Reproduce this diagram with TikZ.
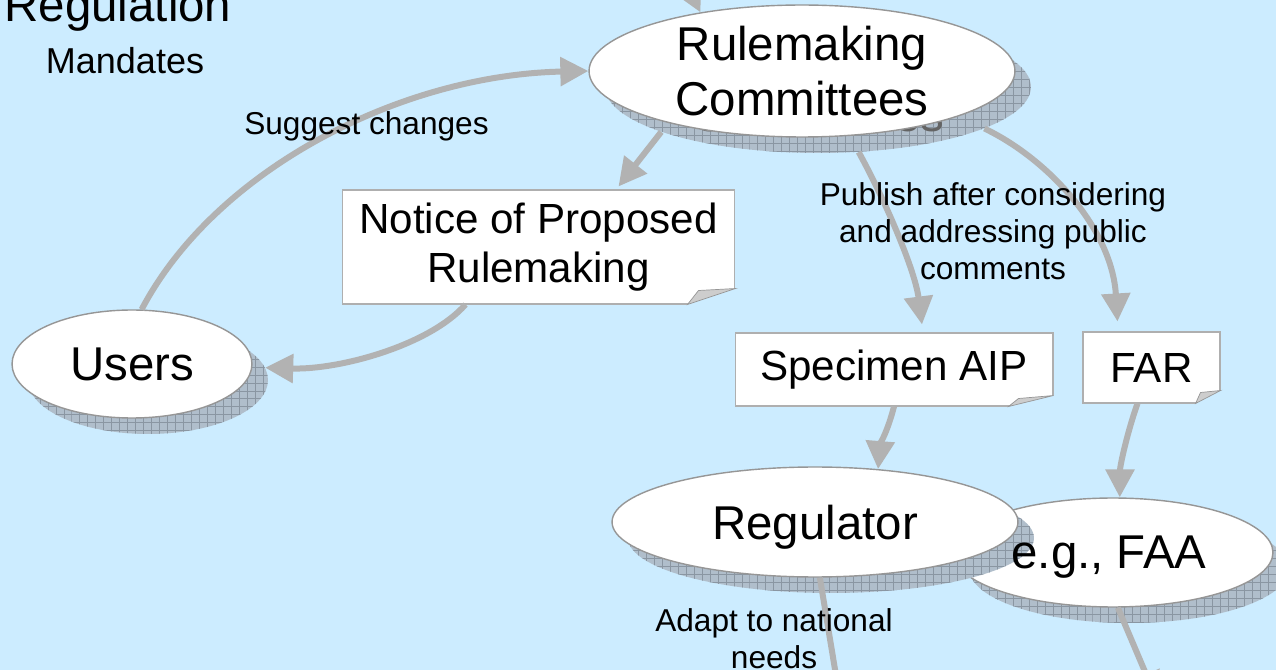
\documentclass[tikz,border=0pt]{standalone}
\usepackage{fontspec}
\setmainfont{Liberation Sans}
\usetikzlibrary{shapes.geometric,arrows.meta,calc,patterns.meta}

\definecolor{paleblue}{RGB}{204,236,255}
\definecolor{flowgray}{RGB}{178,178,178}
\definecolor{rimgray}{RGB}{150,150,150}
\definecolor{shadefill}{RGB}{176,190,203}
\definecolor{shadeline}{RGB}{138,150,162}
\definecolor{ghostgray}{RGB}{100,100,100}
\definecolor{notegray}{RGB}{175,175,175}
\definecolor{curlgray}{RGB}{205,205,205}

\tikzdeclarepattern{
  name=meshgrid,
  type=uncolored,
  bounding box={(-.3pt,-.3pt) and (4.84pt,4.84pt)},
  tile size={(4.54pt,4.54pt)},
  code={\draw[line width=0.35pt] (0,0) -- (4.54pt,0) (0,0) -- (0,4.54pt);}
}

\begin{document}
\begin{tikzpicture}[x=0.02cm,y=0.02cm,>={Triangle[length=0.56cm,width=0.56cm]}]
  \tikzstyle{blob}=[ellipse,fill=white,draw=rimgray,line width=0.8pt,inner sep=0pt]
  \tikzstyle{blobshade}=[ellipse,fill=shadefill,postaction={pattern=meshgrid,pattern color=shadeline},text=ghostgray,inner sep=0pt]
  \tikzstyle{note}=[rectangle,fill=white,draw=notegray,line width=0.6pt,inner sep=0pt]
  \tikzstyle{curl}=[fill=curlgray,draw=rimgray,line width=0.4pt]
  \tikzstyle{flow}=[->,draw=flowgray,line width=0.12cm]
  \tikzstyle{bigfont}=[font=\fontsize{27}{31.7}\selectfont,align=center]
  \tikzstyle{notefont}=[font=\fontsize{24}{27.8}\selectfont,align=center]
  \tikzstyle{labelfont}=[font=\fontsize{18}{21}\selectfont,align=center,inner sep=0pt]

  \useasboundingbox (0,0) rectangle (1276,670);
  \clip (0,0) rectangle (1276,670);
  \fill[paleblue] (0,0) rectangle (1276,670);

  \node[bigfont,anchor=base] (regulation) at (118,648) {Regulation};
  \node[font=\fontsize{20.5}{24}\selectfont,anchor=base] (mandates) at (125,596) {Mandates};

  % ellipses with their shadows
  \node[blobshade,bigfont,minimum width=8.52cm,minimum height=2.64cm] (rcshade) at (818,583) {Rulemaking\\Committees};
  \node[blob,bigfont,minimum width=8.52cm,minimum height=2.64cm] (rc) at (802,599) {Rulemaking\\Committees};
  \node[blobshade,bigfont,minimum width=4.8cm,minimum height=2.16cm] (usersshade) at (148,290) {Users};
  \node[blob,bigfont,minimum width=4.8cm,minimum height=2.16cm] (users) at (132,306) {Users};
  \node[blobshade,minimum width=6.4cm,minimum height=2.18cm] (faashade) at (1129,101.5) {};
  \node[blob,minimum width=6.4cm,minimum height=2.18cm] (faa) at (1113,117.5) {};
  \node[blobshade,bigfont,text depth=0pt,minimum width=8.12cm,minimum height=2.2cm] (regshade) at (831,132) {Regulator};
  \node[blob,bigfont,text depth=0pt,minimum width=8.12cm,minimum height=2.2cm] (reg) at (815,148) {Regulator};
  \node[bigfont] (faatext) at (1109,113) {e.g., FAA};

  % notes with curled corners
  \node[note,notefont,minimum width=7.86cm,minimum height=2.28cm] (nprm) at (538.5,423) {Notice of Proposed\\Rulemaking};
  \node[note,notefont,minimum width=6.36cm,minimum height=1.46cm] (aip) at (894,300.5) {Specimen AIP};
  \node[note,notefont,minimum width=2.74cm,minimum height=1.42cm] (far) at (1151.5,302.5) {FAR};

  \fill[paleblue] ($(nprm.south east)+(0,16)$) -- ($(nprm.south east)+(1,16)$) -- ($(nprm.south east)+(1,-1)$) -- ($(nprm.south east)+(-48,-1)$) -- ($(nprm.south east)+(-48,0)$) -- cycle;
  \filldraw[curl] ($(nprm.south east)+(0,16)$) -- ($(nprm.south east)+(-48,0)$) -- ($(nprm.south east)+(-37,14)$) -- cycle;
  \fill[paleblue] ($(aip.south east)+(0,11)$) -- ($(aip.south east)+(1,11)$) -- ($(aip.south east)+(1,-1)$) -- ($(aip.south east)+(-45,-1)$) -- ($(aip.south east)+(-45,0)$) -- cycle;
  \filldraw[curl] ($(aip.south east)+(0,11)$) -- ($(aip.south east)+(-45,0)$) -- ($(aip.south east)+(-35,8)$) -- cycle;
  \fill[paleblue] ($(far.south east)+(0,13)$) -- ($(far.south east)+(1,13)$) -- ($(far.south east)+(1,-1)$) -- ($(far.south east)+(-25,-1)$) -- ($(far.south east)+(-25,0)$) -- cycle;
  \filldraw[curl] ($(far.south east)+(0,13)$) -- ($(far.south east)+(-25,0)$) -- ($(far.south east)+(-20,11)$) -- cycle;

  % connectors
  \coordinate (above) at (665,730);
  \coordinate (belowreg) at (845,-60);
  \coordinate (belowfaa) at (1157,-30);
  \draw[flow] (above) -- (rc.150);
  \draw[flow] (users.80) .. controls (215,500) and (400,595) .. (rc.west);
  \draw[flow] (rcshade.196) -- ($(nprm.north)+(80,3)$);
  \draw[flow] ($(nprm.south)+(-73,0)$) .. controls (430,325) and (340,300) .. (usersshade.6);
  \draw[flow] (rcshade.302) .. controls (885,470) and (915,400) .. ($(aip.north)+(28,8)$);
  \draw[flow] (rcshade.346) .. controls (1050,510) and (1112,440) .. ($(far.north)+(-34,10)$);
  \draw[flow] (aip.south) .. controls (888,240) and (880,225) .. (reg.40);
  \draw[flow] ($(far.south)+(-14,0)$) .. controls (1128,240) and (1120,205) .. (faa.83);
  \draw[flow] (reg.275) -- (belowreg);
  \draw[flow] (faa.275) -- (belowfaa);

  % connector labels
  \node[labelfont,anchor=base] (suggest) at (366.5,535) {Suggest changes};
  \node[labelfont] (publish) at (993,439) {Publish after considering\\and addressing public\\comments};
  \node[labelfont] (adapt) at (774,31.5) {Adapt to national\\needs};
\end{tikzpicture}
\end{document}
